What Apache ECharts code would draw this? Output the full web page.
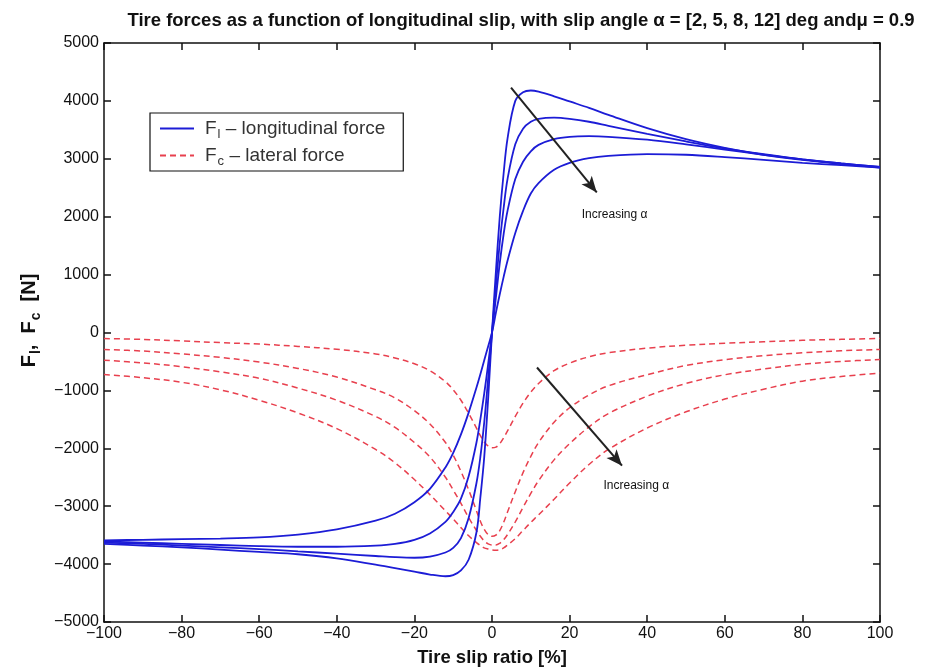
<!DOCTYPE html>
<html>
<head>
<meta charset="utf-8">
<script src="https://cdn.jsdelivr.net/npm/echarts@6/dist/echarts.min.js"></script>
<style>html,body{margin:0;padding:0;background:#fff}#c{width:934px;height:667px}</style>
</head>
<body>
<div id="c"></div>
<script>
// Tire slip ratio [%]
var slip = [-100,-90,-80,-70,-60,-50,-40,-30,-25,-20,-16,-12,-10,-8,-6,-4,-3,-2,-1,0,1,2,3,4,6,8,10,12,16,20,25,30,40,50,60,70,80,90,100];
// Longitudinal force Fl [N] for slip angle 2, 5, 8, 12 deg
var fl2  = [-3650,-3680,-3710,-3750,-3790,-3830,-3900,-4010,-4070,-4130,-4180,-4210,-4190,-4110,-3920,-3450,-2850,-2150,-1150,0,1050,2000,2750,3350,4000,4150,4180,4160,4080,3990,3880,3760,3530,3340,3190,3070,2980,2910,2850];
var fl5  = [-3630,-3650,-3680,-3710,-3740,-3780,-3820,-3860,-3880,-3890,-3870,-3800,-3720,-3550,-3200,-2600,-2150,-1550,-800,0,800,1550,2150,2650,3250,3520,3640,3690,3710,3690,3640,3570,3430,3300,3180,3080,2990,2920,2860];
var fl8  = [-3610,-3630,-3650,-3670,-3690,-3700,-3700,-3680,-3650,-3580,-3470,-3270,-3100,-2870,-2480,-1900,-1500,-1050,-550,0,600,1200,1700,2100,2650,2950,3130,3240,3340,3380,3390,3380,3330,3250,3160,3070,2990,2920,2860];
var fl12 = [-3590,-3580,-3570,-3560,-3540,-3490,-3400,-3250,-3130,-2930,-2700,-2330,-2080,-1760,-1380,-950,-720,-480,-240,0,340,660,960,1240,1720,2100,2400,2580,2810,2930,3010,3050,3080,3070,3030,2980,2930,2890,2850];
// Lateral force Fc [N] for slip angle 2, 5, 8, 12 deg
var fc2  = [-104,-120,-145,-175,-200,-240,-290,-370,-440,-540,-660,-850,-990,-1170,-1400,-1650,-1780,-1890,-1960,-1990,-1980,-1920,-1820,-1700,-1450,-1220,-1030,-880,-660,-530,-420,-350,-270,-220,-185,-160,-135,-118,-104];
var fc5  = [-294,-320,-370,-430,-510,-620,-770,-990,-1130,-1350,-1580,-1900,-2120,-2400,-2720,-3080,-3260,-3400,-3490,-3520,-3500,-3420,-3280,-3100,-2750,-2420,-2140,-1900,-1550,-1300,-1080,-920,-730,-570,-470,-400,-350,-315,-294];
var fc8  = [-478,-525,-590,-680,-790,-960,-1170,-1450,-1640,-1900,-2150,-2500,-2720,-2950,-3200,-3420,-3520,-3600,-3650,-3670,-3670,-3640,-3580,-3490,-3270,-3020,-2780,-2560,-2200,-1920,-1630,-1400,-1100,-880,-730,-630,-550,-500,-466];
var fc12 = [-725,-780,-860,-990,-1170,-1390,-1660,-2020,-2250,-2540,-2800,-3080,-3220,-3370,-3510,-3630,-3680,-3720,-3740,-3755,-3760,-3750,-3720,-3670,-3560,-3420,-3280,-3150,-2880,-2600,-2280,-2020,-1650,-1370,-1150,-980,-840,-760,-700];
// Axis ticks
var xTicks = {min:-100, max:100, step:20};
var yTicks = {min:-5000, max:5000, step:1000};

function pairs(v){ return slip.map(function(x,i){ return [x, v[i]]; }); }
function minus(v){ return String(v).replace('-', '\u2212'); }

var blue = '#1c1cd6', red = '#e8404e';
var font = 'Liberation Sans, Arial, sans-serif';

function flSeries(v, extra){
  var s = {name:'Fl', type:'line', data:pairs(v), symbol:'none', smooth:0.35,
    lineStyle:{color:blue, width:1.8}, itemStyle:{color:blue}, z:3};
  if (extra) for (var k in extra) s[k]=extra[k];
  return s;
}
function fcSeries(v){
  return {name:'Fc', type:'line', data:pairs(v), symbol:'none', smooth:0.35,
    lineStyle:{color:red, width:1.5, type:[6,4]}, itemStyle:{color:red}, z:2};
}

var annot = {
  silent:true, symbol:['none','arrow'], symbolSize:[10,16], label:{show:false},
  lineStyle:{color:'#222', width:2, type:'solid'},
  data:[
    [{coord:[4.9,4230]},{coord:[27,2420]}],
    [{coord:[11.6,-605]},{coord:[33.5,-2300]}]
  ]
};
var annotText = {
  silent:true, symbol:'circle', symbolSize:0,
  label:{show:true, formatter:'Increasing \u03b1', fontSize:12, fontFamily:font, color:'#111', position:'inside'},
  data:[
    {coord:[31.6,2030]},
    {coord:[37.2,-2640]}
  ]
};

var opt = {
  animation:false,
  backgroundColor:'#fff',
  title:{
    text:'Tire forces as a function of longitudinal slip, with slip angle \u03b1 = [2, 5, 8, 12] deg and\u03bc = 0.9',
    left:516, top:6, textAlign:'center',
    textStyle:{fontFamily:font, fontWeight:'bold', fontSize:18.5, color:'#111'}
  },
  legend:{
    left:150, top:113, orient:'vertical', data:['Fl','Fc'],
    backgroundColor:'#fff', borderColor:'#111', borderWidth:1.2,
    padding:[3,18,3,9], itemGap:2, itemWidth:34, itemHeight:21,
    itemStyle:{opacity:0, borderWidth:0},
    formatter:function(n){
      return n==='Fl' ? '{f|F}{s|l}{a| \u2013 longitudinal force}' : '{f|F}{s|c}{a| \u2013 lateral force}';
    },
    textStyle:{fontFamily:font, color:'#333', rich:{
      f:{fontSize:19, fontFamily:font, color:'#333', lineHeight:21, padding:[0,0,0,6]},
      a:{fontSize:19, fontFamily:font, color:'#333', lineHeight:21},
      s:{fontSize:13, fontFamily:font, color:'#333', lineHeight:21, padding:[12,0,0,1]}
    }}
  },
  grid:{left:104, right:54, top:43, bottom:45, containLabel:false, outerBoundsMode:'none'},
  xAxis:[{
    type:'value', min:xTicks.min, max:xTicks.max, interval:xTicks.step,
    name:'Tire slip ratio [%]', nameLocation:'middle', nameGap:26,
    nameTextStyle:{fontFamily:font, fontWeight:'bold', fontSize:18.5, color:'#111'},
    axisLine:{onZero:false, lineStyle:{color:'#111', width:1.5}},
    axisTick:{inside:true, length:7, lineStyle:{color:'#111', width:1.5}},
    axisLabel:{fontFamily:font, fontSize:16, color:'#111', margin:4, formatter:minus},
    splitLine:{show:false}
  },{
    type:'value', position:'top', min:xTicks.min, max:xTicks.max, interval:xTicks.step,
    axisLine:{onZero:false, lineStyle:{color:'#111', width:1.5}},
    axisTick:{inside:true, length:7, lineStyle:{color:'#111', width:1.5}},
    axisLabel:{show:false}, splitLine:{show:false}
  }],
  yAxis:[{
    type:'value', min:yTicks.min, max:yTicks.max, interval:yTicks.step,
    name:'{a|F}{s|l}{a|,  F}{s|c}{a|  [N]}', nameLocation:'middle', nameGap:63, nameRotate:90,
    nameTextStyle:{fontFamily:font, fontWeight:'bold', fontSize:20, color:'#111', padding:[0,0,0,24], rich:{
      a:{fontFamily:font, fontWeight:'bold', fontSize:20, color:'#111', lineHeight:22},
      s:{fontFamily:font, fontWeight:'bold', fontSize:14, color:'#111', lineHeight:22, padding:[13,0,0,1]}
    }},
    axisLine:{onZero:false, lineStyle:{color:'#111', width:1.5}},
    axisTick:{inside:true, length:7, lineStyle:{color:'#111', width:1.5}},
    axisLabel:{fontFamily:font, fontSize:16, color:'#111', margin:5, formatter:minus},
    splitLine:{show:false}
  },{
    type:'value', position:'right', min:yTicks.min, max:yTicks.max, interval:yTicks.step,
    axisLine:{onZero:false, lineStyle:{color:'#111', width:1.5}},
    axisTick:{inside:true, length:7, lineStyle:{color:'#111', width:1.5}},
    axisLabel:{show:false}, splitLine:{show:false}
  }],
  series:[
    fcSeries(fc2), fcSeries(fc5), fcSeries(fc8), fcSeries(fc12),
    flSeries(fl2, {markLine:annot, markPoint:annotText}), flSeries(fl5), flSeries(fl8), flSeries(fl12)
  ]
};
var chart = echarts.init(document.getElementById('c'), null, {renderer:'canvas'});
chart.setOption(opt);
</script>
</body>
</html>
